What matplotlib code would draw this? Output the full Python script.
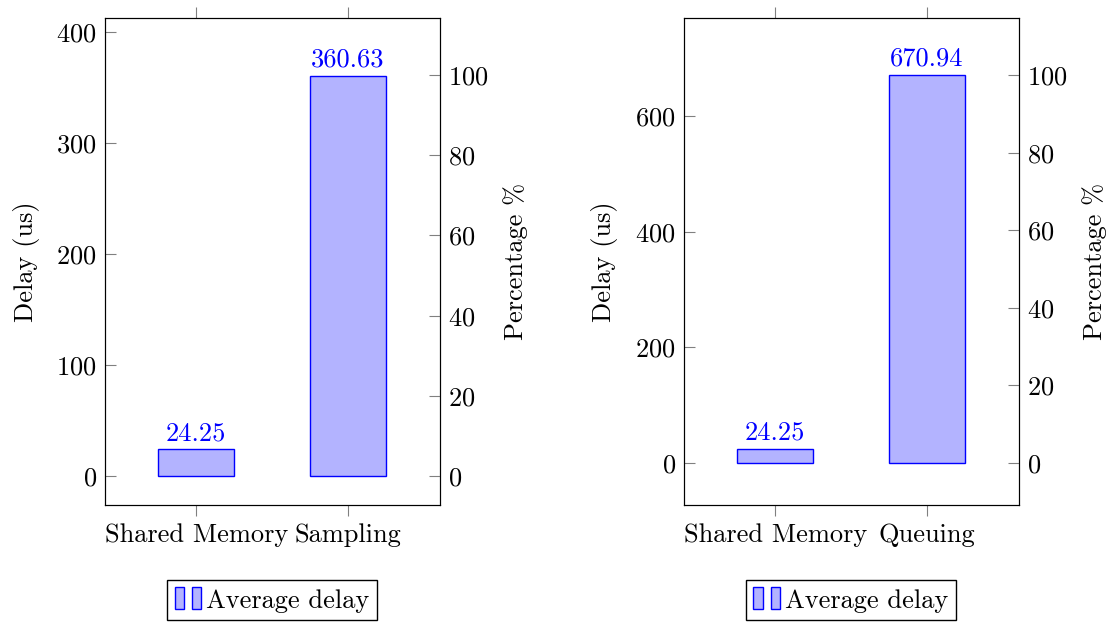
import matplotlib.pyplot as plt
from matplotlib.patches import Rectangle
from matplotlib.legend_handler import HandlerTuple

plt.rcParams["font.family"] = "cmr10"
plt.rcParams["mathtext.fontset"] = "cm"
plt.rcParams["axes.unicode_minus"] = False
plt.rcParams["font.size"] = 19
plt.rcParams["axes.formatter.use_mathtext"] = True

left_cats = ["Shared Memory", "Sampling"]
left_vals = [24.25, 360.63]
right_cats = ["Shared Memory", "Queuing"]
right_vals = [24.25, 670.94]

fill = "#b3b3ff"
edge = "#0000ff"
tickc = "#808080"

fig = plt.figure(figsize=(11.16, 6.23), dpi=100)


def panel(left, cats, vals, ylim, yticks, plim, lx):
    ax = fig.add_axes([left, 0.1894, 0.3002, 0.7817])
    x = list(range(len(cats)))
    ax.bar(x, vals, width=0.5, color=fill, edgecolor=edge, linewidth=1)
    for xi, v in zip(x, vals):
        ax.annotate(f"{v:.2f}", (xi, v), xytext=(0, 3), textcoords="offset points",
                    ha="center", va="bottom", color=edge)
    ax.set_xlim(-0.6, 1.605)
    ax.set_ylim(*ylim)
    ax.set_yticks(yticks)
    ax.set_xticks(x)
    ax.set_xticklabels(cats)
    ax.set_ylabel("Delay (us)", labelpad=12)
    ax.tick_params(axis="y", direction="in", length=8, color=tickc, width=0.8, pad=6)
    ax.tick_params(axis="x", direction="out", length=8, color=tickc, width=0.8,
                   top=True, pad=5)
    ax2 = ax.twinx()
    ax2.set_ylim(*plim)
    ax2.set_yticks([0, 20, 40, 60, 80, 100])
    ax2.tick_params(axis="y", direction="in", length=8, color=tickc, width=0.8, pad=6)
    ax2.set_ylabel("Percentage %", labelpad=10)
    for a in (ax, ax2):
        for s in a.spines.values():
            s.set_linewidth(0.8)
    h = (Rectangle((0, 0), 1, 1, facecolor=fill, edgecolor=edge),
         Rectangle((0, 0), 1, 1, facecolor=fill, edgecolor=edge))
    fig.legend([h], ["Average delay"], loc="center",
               bbox_to_anchor=(lx, 1 - 600 / 623),
               handler_map={tuple: HandlerTuple(ndivide=2, pad=0.3)},
               handlelength=1.0, handleheight=0.9, handletextpad=0.2,
               fancybox=False, edgecolor="black", framealpha=1, borderpad=0.3)


panel(0.0941, left_cats, left_vals, (-26, 412.6), [0, 100, 200, 300, 400], (-7.2, 114.2), 0.2437)
panel(0.6129, right_cats, right_vals, (-72.6, 769.6), [0, 200, 400, 600], (-10.8, 114.7), 0.7625)

fig.savefig("out.png", dpi=100)
